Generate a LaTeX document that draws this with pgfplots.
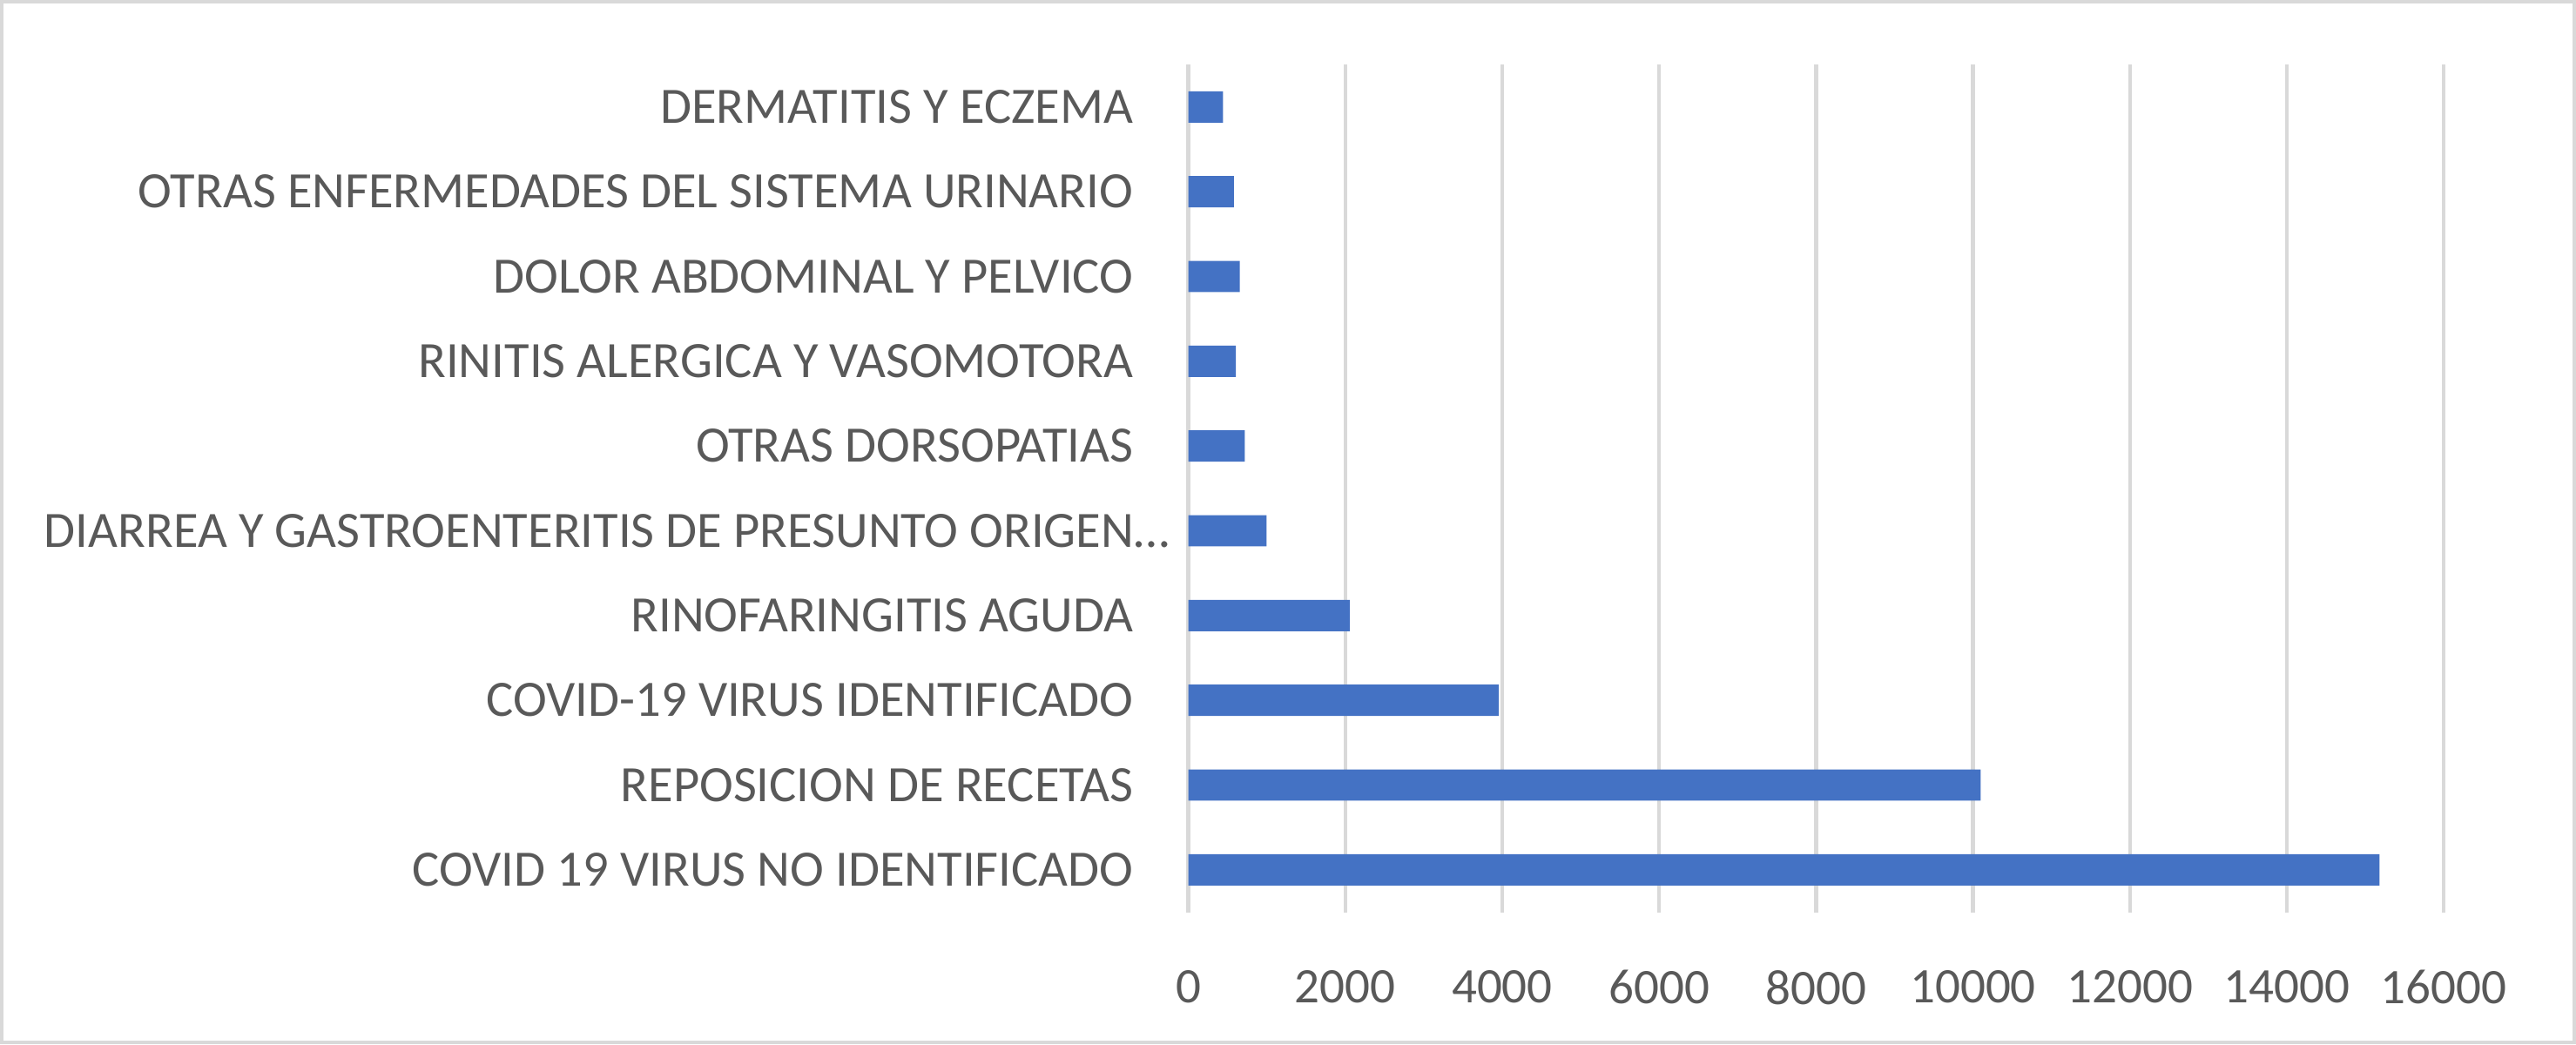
\documentclass[border=0pt]{standalone}
\usepackage{fontspec}
\setmainfont{Carlito}
\usepackage{pgfplots}
\pgfplotsset{compat=1.18}
\definecolor{barblue}{HTML}{4472C4}
\definecolor{gridgray}{HTML}{D9D9D9}
\definecolor{txtgray}{HTML}{595959}
\begin{document}
\begin{tikzpicture}
\begin{axis}[
  xbar,
  scale only axis,
  width=194.6pt, height=131.4pt,
  at={(0,0)}, anchor=south west,
  xmin=0, xmax=16000,
  ymin=-0.5, ymax=9.5,
  xtick={0,2000,...,16000},
  ytick={0,...,9},
  yticklabels={COVID 19 VIRUS NO IDENTIFICADO,REPOSICION DE RECETAS,COVID-19 VIRUS IDENTIFICADO,RINOFARINGITIS AGUDA,DIARREA Y GASTROENTERITIS DE PRESUNTO ORIGEN…\hspace*{-5.6pt},OTRAS DORSOPATIAS,RINITIS ALERGICA Y VASOMOTORA,DOLOR ABDOMINAL Y PELVICO,OTRAS ENFERMEDADES DEL SISTEMA URINARIO,DERMATITIS Y ECZEMA},
  /pgf/number format/assume math mode=true,
  /pgf/number format/set thousands separator={},
  scaled x ticks=false,
  xmajorgrids,
  grid style={color=gridgray, line width=0.6pt},
  axis line style={draw=none},
  major tick length=0pt,
  tick label style={text=txtgray},
  yticklabel style={font=\fontsize{7.9}{9.5}\selectfont, xshift=-5pt},
  xticklabel style={font=\fontsize{7.7}{9.5}\selectfont, yshift=-5.5pt},
  bar width=4.85pt,
]
\addplot[fill=barblue, draw=none] coordinates {
  (15181,0) (10098,1) (3956,2) (2056,3) (996,4) (719,5) (607,6) (656,7) (581,8) (441,9)
};
\end{axis}
\draw[gridgray, line width=0.6pt] (-183.9pt,-20.2pt) rectangle (214.8pt,141.1pt);
\end{tikzpicture}
\end{document}
